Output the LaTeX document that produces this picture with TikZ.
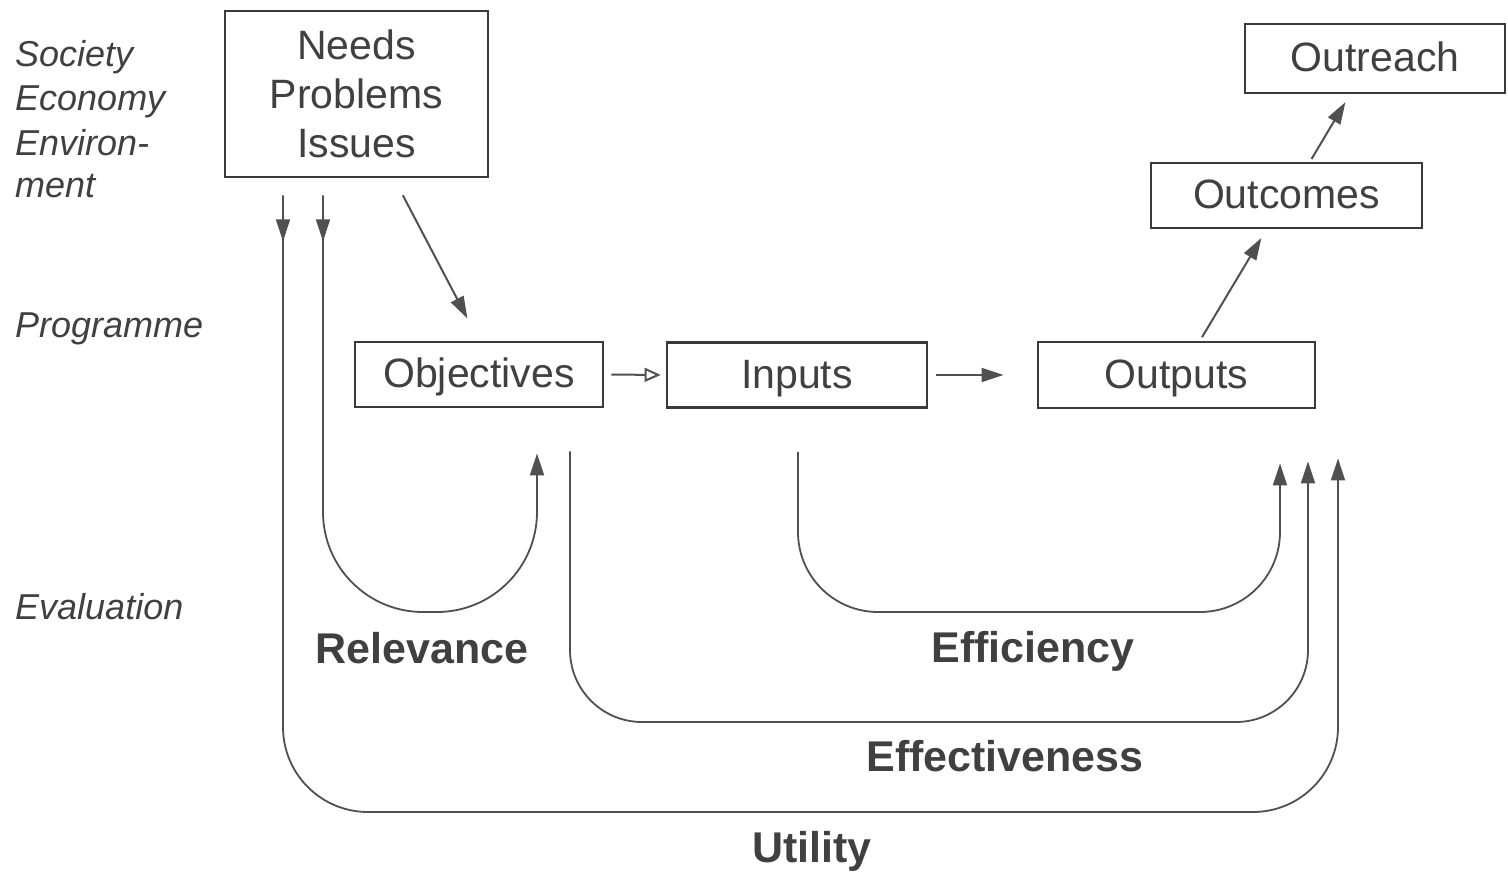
\documentclass[tikz,border=0pt]{standalone}
\usepackage{fontspec}
\setmainfont{Liberation Sans}
\usetikzlibrary{arrows.meta,decorations.markings}
\definecolor{ink}{HTML}{3A3A3A}
\definecolor{txt}{HTML}{404040}
\definecolor{wire}{HTML}{505050}
\begin{document}
\begin{tikzpicture}[x=1pt,y=-1pt,
  box/.style={draw=ink,line width=2.8pt,inner sep=0pt,text=txt,
    font=\fontsize{41}{49}\selectfont,align=center},
  onebox/.style={box,text height=27pt,text depth=0pt},
  side/.style={text=txt,inner sep=0pt,anchor=base west,
    font=\fontsize{36}{45}\selectfont\itshape,align=left},
  crit/.style={text=txt,inner sep=0pt,anchor=base,
    font=\fontsize{43}{50}\selectfont\bfseries},
  tip/.style={-{Triangle[length=22pt,width=14pt]}},
  link/.style={draw=wire,line width=2pt,tip},
  loop/.style={draw=wire,line width=1.8pt,tip,rounded corners=#1},
  downmark/.style={postaction={decorate},decoration={markings,
    mark=at position 46pt with {\arrow{Triangle[length=22pt,width=14pt]}}}}
]
\useasboundingbox (0,0) rectangle (1508,874);

% side headings (base anchor sits on the last line)
\node[side] (lvl1) at (15,198) {Society\\[-1pt]Economy\\Environ-\\[-3pt]ment};
\node[side] (lvl2) at (15,338) {Programme};
\node[side] (lvl3) at (15,619) {Evaluation};

% boxes
\node[box,minimum width=263pt,minimum height=166pt] (needs) at (356.5,94) {Needs\\Problems\\Issues};
\node[onebox,minimum width=248pt,minimum height=65pt] (obj) at (479,374.5) {Objectives};
\node[onebox,minimum width=260pt,minimum height=65pt] (inp) at (797,375) {Inputs};
\node[onebox,minimum width=277pt,minimum height=66pt] (outp) at (1176.5,375) {Outputs};
\node[onebox,minimum width=271pt,minimum height=65pt] (outc) at (1286.5,195.5) {Outcomes};
\node[onebox,minimum width=260pt,minimum height=69pt] (outr) at (1375,58.5) {Outreach};

% programme chain
\draw[draw=wire,line width=2pt,-{Triangle[open,length=16pt,width=14pt]},
  shorten <=7pt,shorten >=5pt] (obj.east) -- (inp.west);
\draw[link,shorten <=8pt,shorten >=33pt] (inp.east) -- (outp.west);
\draw[link,shorten <=4pt,shorten >=10pt] ([xshift=23.5pt]outp.north) -- ([xshift=-20pt]outc.south);
\draw[link,shorten <=3pt,shorten >=9pt] ([xshift=23.5pt]outc.north) -- ([xshift=-25pt]outr.south);
\draw[link,shorten <=19pt,shorten >=25pt] ([xshift=37.5pt]needs.south) -- (obj.north);

% evaluation loops
\coordinate (uS) at ([xshift=-73.5pt,yshift=-17pt]needs.south);
\coordinate (rS) at ([xshift=-33.5pt,yshift=-17pt]needs.south);
\coordinate (rE) at ([xshift=58pt,yshift=-45pt]obj.south);
\coordinate (eS) at ([xshift=91pt,yshift=-43pt]obj.south);
\coordinate (fS) at ([xshift=1pt,yshift=-43pt]inp.south);
\coordinate (fE) at ([xshift=103.5pt,yshift=-54pt]outp.south);
\coordinate (eE) at ([xshift=131.5pt,yshift=-52pt]outp.south);
\coordinate (uE) at ([xshift=161.5pt,yshift=-49pt]outp.south);
\coordinate (rB) at (430,612);
\coordinate (fB) at (1000,612);
\coordinate (eB) at (900,722);
\coordinate (uB) at (800,812);

\draw[loop=100pt,downmark] (rS) -- (rS |- rB) -- (rE |- rB) -- (rE);
\draw[loop=80pt] (fS) -- (fS |- fB) -- (fE |- fB) -- (fE);
\draw[loop=72pt] (eS) -- (eS |- eB) -- (eE |- eB) -- (eE);
\draw[loop=85pt,downmark] (uS) -- (uS |- uB) -- (uE |- uB) -- (uE);

% criteria
\node[crit] (rel) at (422,663) {Relevance};
\node[crit] (eff) at (1033,662) {Efficiency};
\node[crit] (efv) at (1005,771) {Effectiveness};
\node[crit] (uti) at (812,862) {Utility};
\end{tikzpicture}
\end{document}
